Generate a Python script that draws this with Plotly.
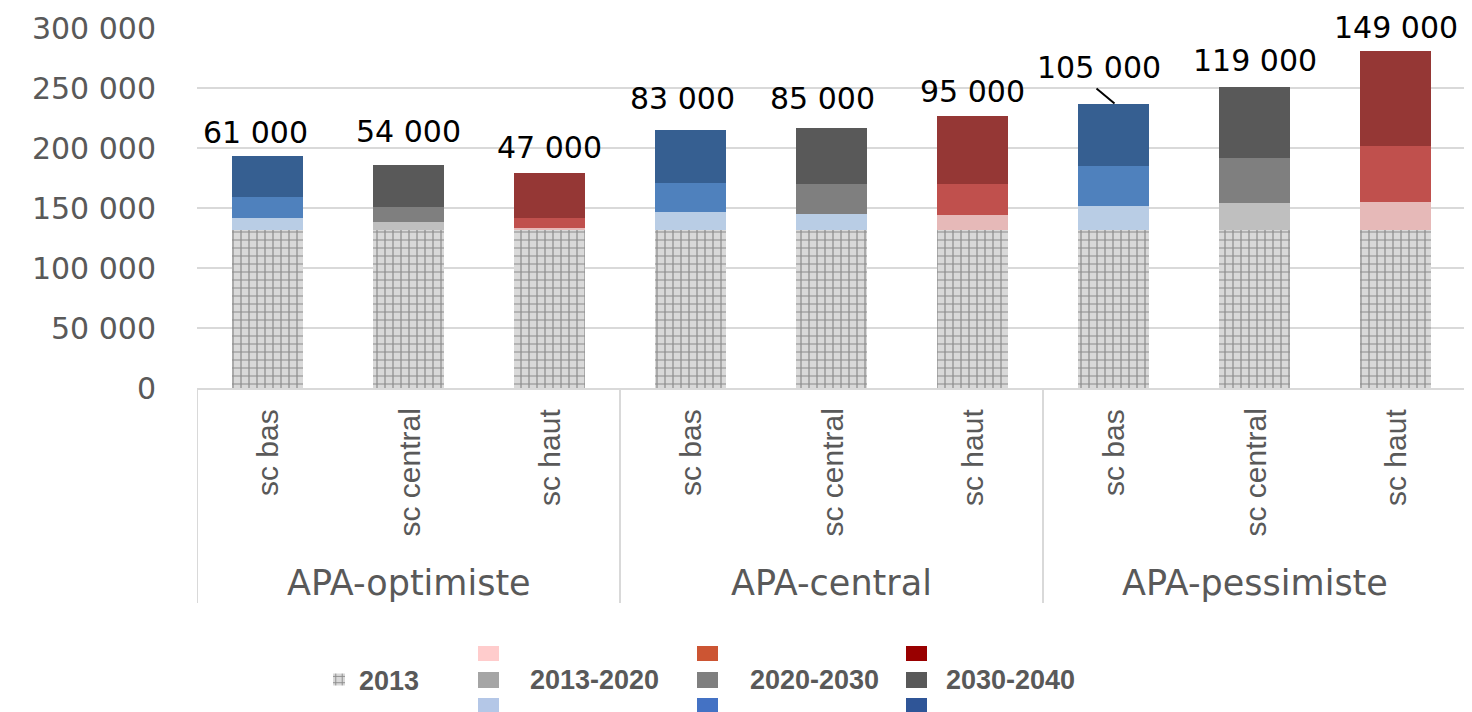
import plotly.graph_objects as go

# ---------------- data ----------------
groups = ["APA-optimiste", "APA-central", "APA-pessimiste"]
scenarios = ["sc bas", "sc central", "sc haut"]
series_names = ["2013", "2013-2020", "2020-2030", "2030-2040"]

base_2013 = [132000, 132000, 132000, 132000, 132000, 132000, 132000, 132000, 132000]
inc_2013_2020 = [10000, 6000, 1500, 15000, 13000, 12000, 20000, 22000, 23000]
inc_2020_2030 = [17000, 13000, 8500, 24000, 25000, 26000, 33000, 38000, 47000]
inc_2030_2040 = [34000, 35000, 37000, 44000, 47000, 57000, 52000, 59000, 79000]

y_ticks = [0, 50000, 100000, 150000, 200000, 250000, 300000]

# ---------------- styles ----------------
col_seg1 = ["#b9cde5", "#bfbfbf", "#e6b9b8", "#b9cde5", "#b9cde5", "#e6b9b8", "#b9cde5", "#bfbfbf", "#e6b9b8"]
col_seg2 = ["#4f81bd", "#7f7f7f", "#c0504d", "#4f81bd", "#7f7f7f", "#c0504d", "#4f81bd", "#7f7f7f", "#c0504d"]
col_seg3 = ["#365f91", "#595959", "#953735", "#365f91", "#595959", "#953735", "#365f91", "#595959", "#953735"]
legend_swatches = [
    ["#ffcccc", "#a5a5a5", "#b4c7e7"],
    ["#cc5533", "#7f7f7f", "#4472c4"],
    ["#990000", "#595959", "#2f5597"],
]
label_yshift = [24, 33, 26, 32, 29, 24, 36, 26, 23]
label_xshift = [-12, 0, 0, -8, -9, 0, -15, 0, 0]

W, H = 1472, 712
OFF = 8  # default page body margin
ML, MR, MT, MB = 197 - OFF, 14, 28 - OFF, 332
PW, PH = W - ML - MR, H - MT - MB


def px_x(px):
    return (px - OFF - ML) / PW


def px_y(py):
    return (H - MB - (py - OFF)) / PH


n = len(base_2013)
xs = list(range(n))
bar_w = 0.5

fig = go.Figure()
fig.add_trace(go.Bar(
    x=xs, y=base_2013, name=series_names[0], width=bar_w,
    marker=dict(color="#d9d9d9", line=dict(width=0),
                pattern=dict(shape="+", bgcolor="#d9d9d9", fgcolor="#8c8c8c",
                             size=8, solidity=0.28, fillmode="replace")),
    showlegend=True,
))
for name, vals, cols in [(series_names[1], inc_2013_2020, col_seg1),
                         (series_names[2], inc_2020_2030, col_seg2),
                         (series_names[3], inc_2030_2040, col_seg3)]:
    fig.add_trace(go.Bar(x=xs, y=vals, name=name, width=bar_w,
                         marker=dict(color=cols, line=dict(width=0)),
                         showlegend=False))

annotations = []
shapes = []
totals = [b + a + c + d for b, a, c, d in zip(base_2013, inc_2013_2020, inc_2020_2030, inc_2030_2040)]
incs = [a + c + d for a, c, d in zip(inc_2013_2020, inc_2020_2030, inc_2030_2040)]

for i in xs:
    annotations.append(dict(
        x=i, y=totals[i], xref="x", yref="y", text=f"{incs[i]:,}".replace(",", " "),
        showarrow=False, yanchor="middle", xanchor="center",
        yshift=label_yshift[i], xshift=label_xshift[i],
        font=dict(family="DejaVu Sans", size=30, color="#000000"),
    ))

# leader line for the 7th label
shapes.append(dict(type="line", xref="x", yref="y", xsizemode="pixel", ysizemode="pixel",
                   xanchor=6, yanchor=totals[6], x0=-17, x1=1, y0=15, y1=0,
                   line=dict(color="#000000", width=2)))

# category labels
for gi, g in enumerate(groups):
    for si, s in enumerate(scenarios):
        idx = gi * 3 + si
        annotations.append(dict(
            x=idx, y=px_y(407), xref="x", yref="paper", text=s, textangle=-90,
            showarrow=False, xanchor="center", yanchor="top",
            font=dict(family="Liberation Sans", size=30, color="#595959"),
        ))
    annotations.append(dict(
        x=gi * 3 + 1, y=px_y(583), xref="x", yref="paper", text=g,
        showarrow=False, xanchor="center", yanchor="middle",
        font=dict(family="DejaVu Sans", size=35, color="#595959"),
    ))

# group dividers
for xv in [-0.5, 2.5, 5.5, 8.5]:
    shapes.append(dict(type="line", xref="x", yref="paper", x0=xv, x1=xv,
                       y0=0, y1=px_y(603), line=dict(color="#d9d9d9", width=2)))

# legend swatches (columns for 2013-2020, 2020-2030, 2030-2040)
sw_x = [478, 697, 906]
txt_x = [528, 748, 944]
row_y = [(646, 661), (672, 688), (698, 713)]
for ci in range(3):
    for ri in range(3):
        y0, y1 = row_y[ri]
        shapes.append(dict(type="rect", xref="paper", yref="paper",
                           x0=px_x(sw_x[ci]), x1=px_x(sw_x[ci] + 21),
                           y0=px_y(y1), y1=px_y(y0),
                           fillcolor=legend_swatches[ci][ri], line=dict(width=0)))
    annotations.append(dict(
        x=px_x(txt_x[ci]), y=px_y(680), xref="paper", yref="paper",
        text=f"<b>{series_names[ci + 1]}</b>", showarrow=False,
        xanchor="left", yanchor="middle",
        font=dict(family="Liberation Sans", size=27, color="#595959"),
    ))

fig.update_layout(
    width=W, height=H,
    margin=dict(l=ML, r=MR, t=MT, b=MB, autoexpand=False),
    paper_bgcolor="white", plot_bgcolor="white",
    barmode="stack", separators=", ",
    xaxis=dict(range=[-0.5, 8.5], showticklabels=False, showgrid=False, zeroline=False,
               showline=True, linecolor="#d9d9d9", linewidth=2, fixedrange=True,
               automargin=False),
    yaxis=dict(range=[0, 300000], tickvals=y_ticks, tickformat=",d", showgrid=True,
               gridcolor="#d9d9d9", gridwidth=2, zeroline=False, showline=False,
               ticklabelstandoff=40, automargin=False,
               tickfont=dict(family="DejaVu Sans", size=30, color="#595959")),
    legend=dict(x=px_x(319), y=px_y(680), xanchor="left", yanchor="middle",
                bgcolor="rgba(0,0,0,0)",
                font=dict(family="Liberation Sans", size=27, color="#595959", weight="bold")),
    annotations=annotations, shapes=shapes,
)

fig.write_html("out.html")
